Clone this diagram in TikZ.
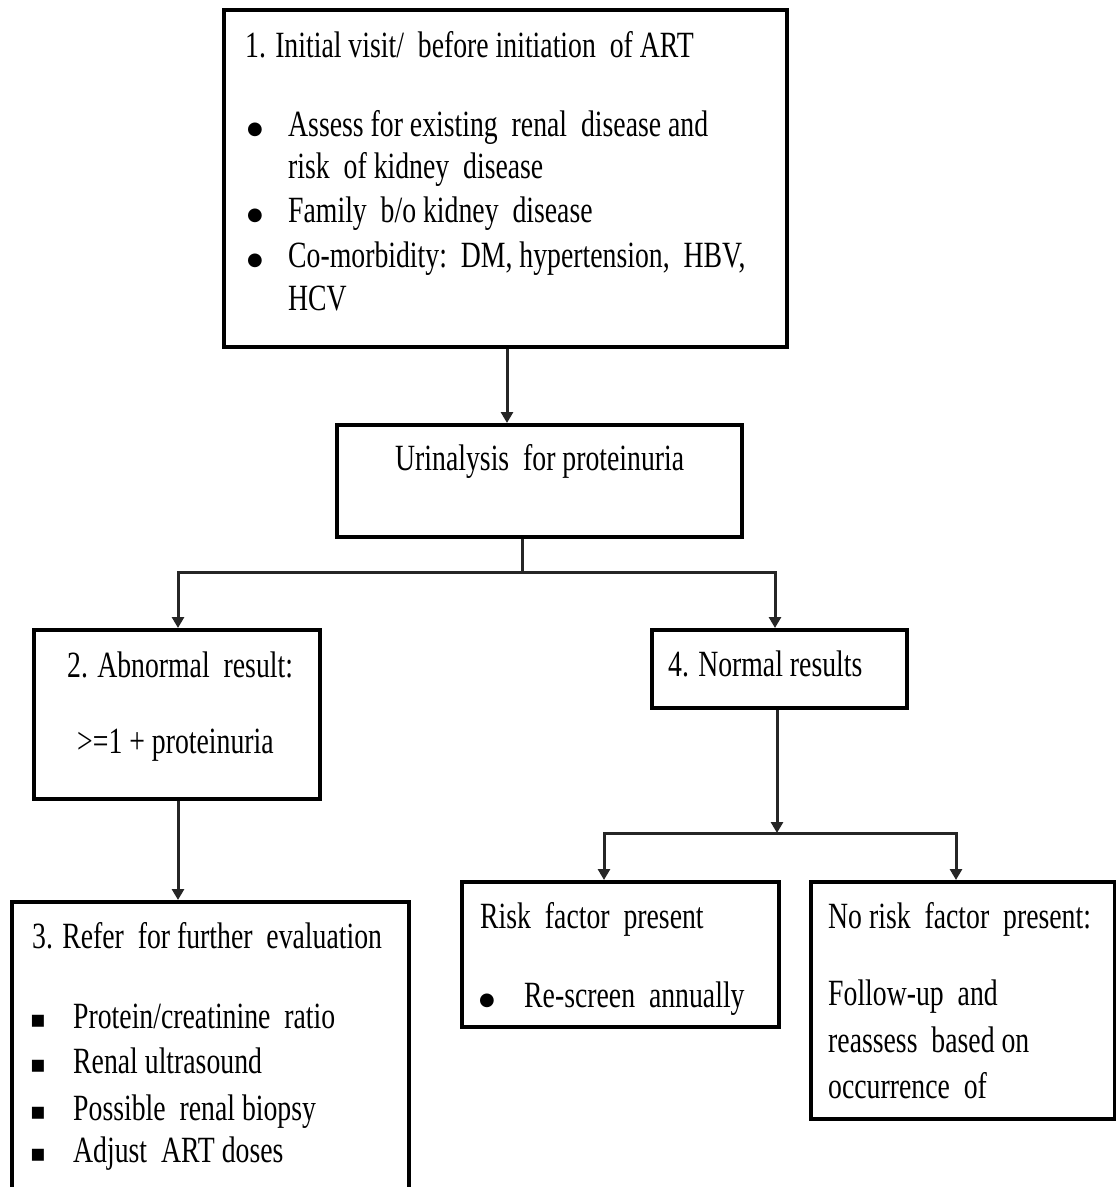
\documentclass[tikz,border=0pt]{standalone}
\usepackage{fontspec}
\usetikzlibrary{arrows.meta,calc}
\newfontfamily\rf{Liberation Serif}[FakeStretch=0.75]
\newfontfamily\dv{DejaVu Sans}
\begin{document}
\begin{tikzpicture}[x=1pt,y=-1pt,
  box/.style={draw=black,line width=4pt,fill=white,anchor=north west,inner sep=0pt},
  txt/.style={anchor=base west,inner sep=0pt,font=\rf\fontsize{37}{44}\selectfont},
  bul/.style={anchor=base,inner sep=0pt,font=\dv\fontsize{18}{20}\selectfont},
  sqb/.style={anchor=base,inner sep=0pt,font=\dv\fontsize{24}{26}\selectfont},
  conn/.style={draw=black!85,line width=3pt},
  arr/.style={conn,-{Triangle[width=12pt,length=11pt]}}]
\useasboundingbox (0,0) rectangle (1116,1187);
\clip (0,0) rectangle (1116,1187);
\fill[white] (0,0) rectangle (1116,1187);

% boxes
\node[box,minimum width=563pt,minimum height=337pt] (b1) at (222,8) {};
\node[box,minimum width=405pt,minimum height=112pt] (urin) at (335,423) {};
\node[box,minimum width=286pt,minimum height=169pt] (b2) at (32,628) {};
\node[box,minimum width=255pt,minimum height=78pt] (b4) at (650,628) {};
\node[box,minimum width=397pt,minimum height=320pt] (b3) at (10,900) {};
\node[box,minimum width=317pt,minimum height=145pt] (risk) at (460,880) {};
\node[box,minimum width=304pt,minimum height=237pt] (norisk) at (809,880) {};

% text box 1
\node[txt] (t1) at (245,57) {1. Initial visit/\ \ before initiation\ \ of ART};
\node[bul] (t1b1) at (255,134) {●};
\node[txt] (t1l1) at (288,136) {Assess for existing\ \ renal\ \ disease and};
\node[txt] (t1l2) at (288,178) {risk\ \ of kidney\ \ disease};
\node[bul] (t1b2) at (255,220) {●};
\node[txt] (t1l3) at (288,222) {Family\ \ b/o kidney\ \ disease};
\node[bul] (t1b3) at (255,265) {●};
\node[txt] (t1l4) at (288,267) {Co-morbidity:\ \ DM, hypertension,\ \ HBV,};
\node[txt] (t1l5) at (288,310) {HCV};

% urinalysis
\node[txt] (tu) at (395,470) {Urinalysis\ \ for proteinuria};

% box 2
\node[txt] (t2a) at (67,677) {2. Abnormal\ \ result:};
\node[txt] (t2b) at (77,753) {>=1 + proteinuria};

% box 4
\node[txt] (t4) at (668,676) {4. Normal results};

% box 3
\node[txt] (t3) at (32,948) {3. Refer\ \ for further\ \ evaluation};
\node[sqb] (t3b1) at (38,1027) {▪};
\node[txt] (t3l1) at (73,1028) {Protein/creatinine\ \ ratio};
\node[sqb] (t3b2) at (38,1072) {▪};
\node[txt] (t3l2) at (73,1073) {Renal ultrasound};
\node[sqb] (t3b3) at (38,1119) {▪};
\node[txt] (t3l3) at (73,1120) {Possible\ \ renal biopsy};
\node[sqb] (t3b4) at (38,1161) {▪};
\node[txt] (t3l4) at (73,1162) {Adjust\ \ ART doses};

% risk
\node[txt] (tr) at (480,928) {Risk\ \ factor\ \ present};
\node[bul] (trb) at (487,1005) {●};
\node[txt] (trl) at (524,1007) {Re-screen\ \ annually};

% no risk
\node[txt] (tn) at (828,928) {No risk\ \ factor\ \ present:};
\node[txt] (tn1) at (828,1005) {Follow-up\ \ and};
\node[txt] (tn2) at (828,1052) {reassess\ \ based on};
\node[txt] (tn3) at (828,1098) {occurrence\ \ of};

% connector coordinates
\coordinate (x1) at (507,0);
\coordinate (j1) at (522,572);
\coordinate (xl) at (178,0);
\coordinate (xr) at (775,0);
\coordinate (j2) at (777,833);
\coordinate (xrl) at (604,0);
\coordinate (xrr) at (956,0);

% connectors
\draw[arr] (b1.south -| x1) -- (urin.north -| x1);
\draw[conn] (urin.south -| j1) -- (j1);
\draw[arr] (j1) -| (b2.north -| xl);
\draw[arr] (j1) -| (b4.north -| xr);
\draw[arr] (b2.south -| xl) -- (b3.north -| xl);
\draw[arr] (b4.south -| j2) -- (j2);
\draw[arr] (j2) -| (risk.north -| xrl);
\draw[arr] (j2) -| (norisk.north -| xrr);
\end{tikzpicture}
\end{document}
